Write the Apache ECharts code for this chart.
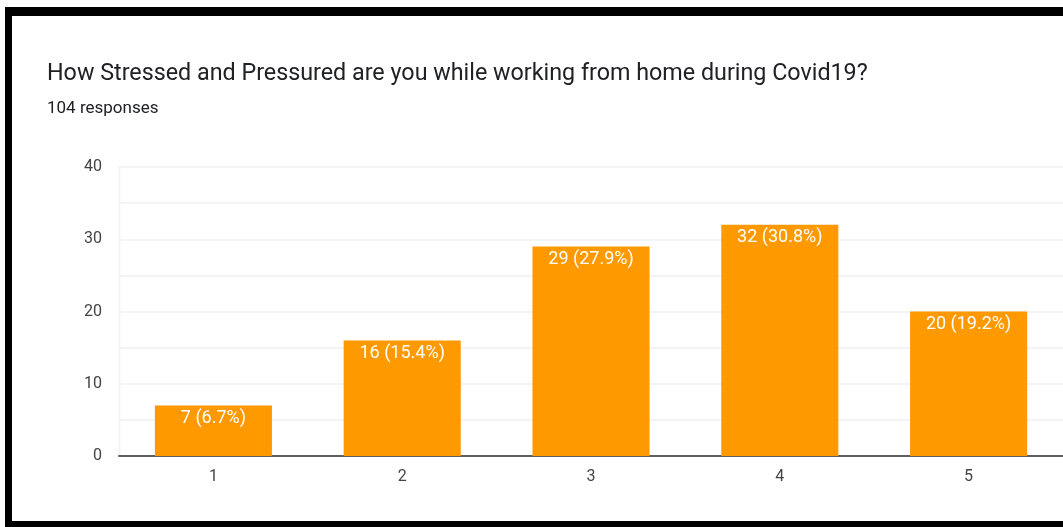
<!DOCTYPE html>
<html>
<head>
<meta charset="utf-8">
<script src="https://cdn.jsdelivr.net/npm/echarts@6/dist/echarts.min.js"></script>
<style>
html,body{margin:0;padding:0;background:#fff;}
#wrap{position:absolute;left:0;top:0;width:1063px;height:527px;overflow:hidden;background:#fff;}
#frameTop{position:absolute;left:5px;top:7px;width:1058px;height:9px;background:#000;}
#frameLeft{position:absolute;left:5px;top:7px;width:7px;height:520px;background:#000;}
#frameBottom{position:absolute;left:5px;top:521px;width:1058px;height:6px;background:#000;}
#chart{position:absolute;left:12px;top:16px;width:1051px;height:505px;}
</style>
</head>
<body>
<div id="wrap">
<div id="chart"></div>
<div id="frameTop"></div>
<div id="frameLeft"></div>
<div id="frameBottom"></div>
</div>
<script>
const titleText = "How Stressed and Pressured are you while working from home during Covid19?";
const subtitleText = "104 responses";
const categories = ["1", "2", "3", "4", "5"];
const counts = [7, 16, 29, 32, 20];
const percents = ["6.7", "15.4", "27.9", "30.8", "19.2"];
const yTicks = [0, 10, 20, 30, 40];

const chart = echarts.init(document.getElementById('chart'));
const font = 'Roboto, Arial, sans-serif';
chart.setOption({
  animation: false,
  title: [
    {text: titleText, left: 30, top: 42, textStyle: {fontFamily: font, fontSize: 23.3, fontWeight: 'normal', color: '#202124'}},
    {text: subtitleText, left: 30, top: 79, textStyle: {fontFamily: font, fontSize: 17, fontWeight: 'normal', color: '#202124'}}
  ],
  grid: {left: 107, top: 151, width: 951, height: 289, containLabel: false},
  xAxis: {
    type: 'category',
    data: categories,
    axisLine: {show: true, lineStyle: {color: '#5f5f5f', width: 2}},
    axisTick: {show: false},
    axisLabel: {fontFamily: font, fontSize: 16, color: '#444', margin: 13},
    splitLine: {show: false}
  },
  yAxis: {
    type: 'value',
    min: yTicks[0],
    max: yTicks[yTicks.length - 1],
    interval: 5,
    axisLine: {show: false},
    axisTick: {show: false},
    axisLabel: {fontFamily: font, fontSize: 16, color: '#444', margin: 17,
      formatter: v => (v % 10 === 0 ? String(v) : '')},
    splitLine: {show: true, lineStyle: {color: '#f0f0f0', width: 1.5}}
  },
  series: [{
    type: 'bar',
    data: counts,
    barCategoryGap: '38%',
    itemStyle: {color: '#ff9900'},
    label: {
      show: true,
      position: 'insideTop',
      distance: 4,
      color: '#fff',
      fontFamily: font,
      fontSize: 18,
      formatter: p => counts[p.dataIndex] + ' (' + percents[p.dataIndex] + '%)'
    }
  }],
  graphic: [{
    type: 'line', z: 0,
    shape: {x1: 107.5, y1: 151, x2: 107.5, y2: 440},
    style: {stroke: '#f0f0f0', lineWidth: 1.5}
  }]
});
</script>
</body>
</html>
